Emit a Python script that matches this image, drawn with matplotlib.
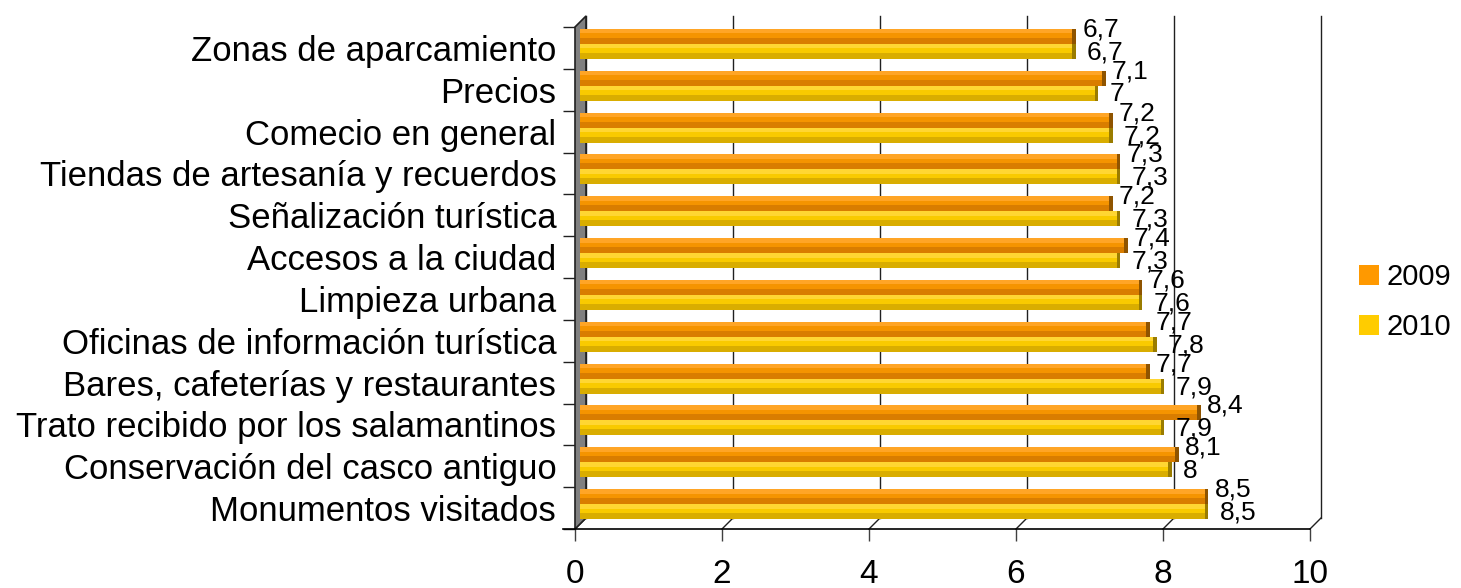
import matplotlib.pyplot as plt
import numpy as np
from matplotlib.patches import Patch, Polygon

plt.rcParams['font.family'] = ['Liberation Sans', 'DejaVu Sans']

categories = ['Zonas de aparcamiento', 'Precios', 'Comecio en general',
              'Tiendas de artesanía y recuerdos', 'Señalización turística',
              'Accesos a la ciudad', 'Limpieza urbana',
              'Oficinas de información turística',
              'Bares, cafeterías y restaurantes',
              'Trato recibido por los salamantinos',
              'Conservación del casco antiguo', 'Monumentos visitados']
v2009 = [6.7, 7.1, 7.2, 7.3, 7.2, 7.4, 7.6, 7.7, 7.7, 8.4, 8.1, 8.5]
v2010 = [6.7, 7.0, 7.2, 7.3, 7.3, 7.3, 7.6, 7.8, 7.9, 7.9, 8.0, 8.5]
years = ['2009', '2010']
xticks = [0, 2, 4, 6, 8, 10]

# colours for the fake 3d bars: light top, base, dark bottom, end cap
orange = ['#ffa526', '#f59400', '#d97d00', '#8f5400']
yellow = ['#ffd633', '#f9ca00', '#d9ad00', '#9a7c00']

fig = plt.figure(figsize=(14.61, 5.88), dpi=100)
W, H = 1461, 588
# front plane in pixels: x 575..1310, y 27..529
ax = fig.add_axes([575 / W, 1 - 529 / H, (1310 - 575) / W, (529 - 27) / H])
ax.set_xlim(0, 10)
ax.set_ylim(11.5, -0.5)
n = len(categories)
y = np.arange(n)

pxx = 10 / (1310 - 575)       # data units per pixel, x
pxy = 12 / (529 - 27)         # data units per pixel, y
DX, DY = 11 * pxx, 11 * pxy   # depth of the 3d box
BX, BY = 5 * pxx, 4 * pxy     # bars sit in the middle of the depth

for s in ax.spines.values():
    s.set_visible(False)

# back wall grid lines and floor diagonals
for t in xticks:
    ax.plot([t + DX, t + DX], [-0.5 - DY, 11.5 - DY], color='#202020', lw=1,
            zorder=1, clip_on=False)
    ax.plot([t, t + DX], [11.5, 11.5 - DY], color='#202020', lw=1,
            zorder=1, clip_on=False)
# left side wall
wall = Polygon([(0, -0.5), (DX, -0.5 - DY), (DX, 11.5 - DY), (0, 11.5)],
               closed=True, facecolor='#808080', edgecolor='#202020', lw=1.2,
               zorder=2, clip_on=False)
ax.add_patch(wall)
# front floor line
ax.plot([-12 * pxx, 10], [11.5, 11.5], color='black', lw=1.2, clip_on=False, zorder=3)

h = 0.36
def bar3d(vals, offs, cols):
    yc = y + offs - BY
    # strips from top to bottom
    ax.barh(yc - h * 0.35, vals, height=h * 0.3, left=BX, color=cols[0], lw=0, zorder=4)
    ax.barh(yc, vals, height=h * 0.4, left=BX, color=cols[1], lw=0, zorder=4)
    ax.barh(yc + h * 0.3, vals, height=h * 0.4, left=BX, color=cols[2], lw=0, zorder=4)
    ax.barh(yc, 0.05, height=h, left=np.array(vals) + BX, color=cols[3], lw=0, zorder=5)
    return yc

yc09 = bar3d(v2009, -h / 2, orange)
yc10 = bar3d(v2010, h / 2, yellow)

def fmt(v):
    return ('%g' % v).replace('.', ',')

for v, yy in zip(v2009, yc09):
    ax.annotate(fmt(v), (v + BX + 0.05, yy), xytext=(6, 7), textcoords='offset pixels',
                ha='left', va='center', fontsize=19, zorder=6, annotation_clip=False)
for v, yy in zip(v2010, yc10):
    ax.annotate(fmt(v), (v + BX + 0.05, yy), xytext=(11, -1), textcoords='offset pixels',
                ha='left', va='center', fontsize=19, zorder=6, annotation_clip=False)

ax.set_yticks(y)
ax.set_yticklabels(categories, fontsize=25)
ax.set_yticks(np.arange(-0.5, n, 1), minor=True)
ax.tick_params(axis='y', which='major', length=0, pad=13.5)
ax.tick_params(axis='y', which='minor', length=8.6, width=1, color='#202020')
ax.set_xticks(xticks)
ax.set_xticklabels([str(t) for t in xticks], fontsize=24)
ax.tick_params(axis='x', length=8.6, width=1, color='#404040', pad=13)

handles = [Patch(facecolor='#ff9900'), Patch(facecolor='#ffcc00')]
fig.legend(handles, years, loc='center left', bbox_to_anchor=(1359 / W, 1 - 302 / H),
           frameon=False, fontsize=21, handlelength=0.68, handleheight=0.68,
           handletextpad=0.25, labelspacing=0.75, borderpad=0, borderaxespad=0)

fig.savefig('out.png', dpi=100)
